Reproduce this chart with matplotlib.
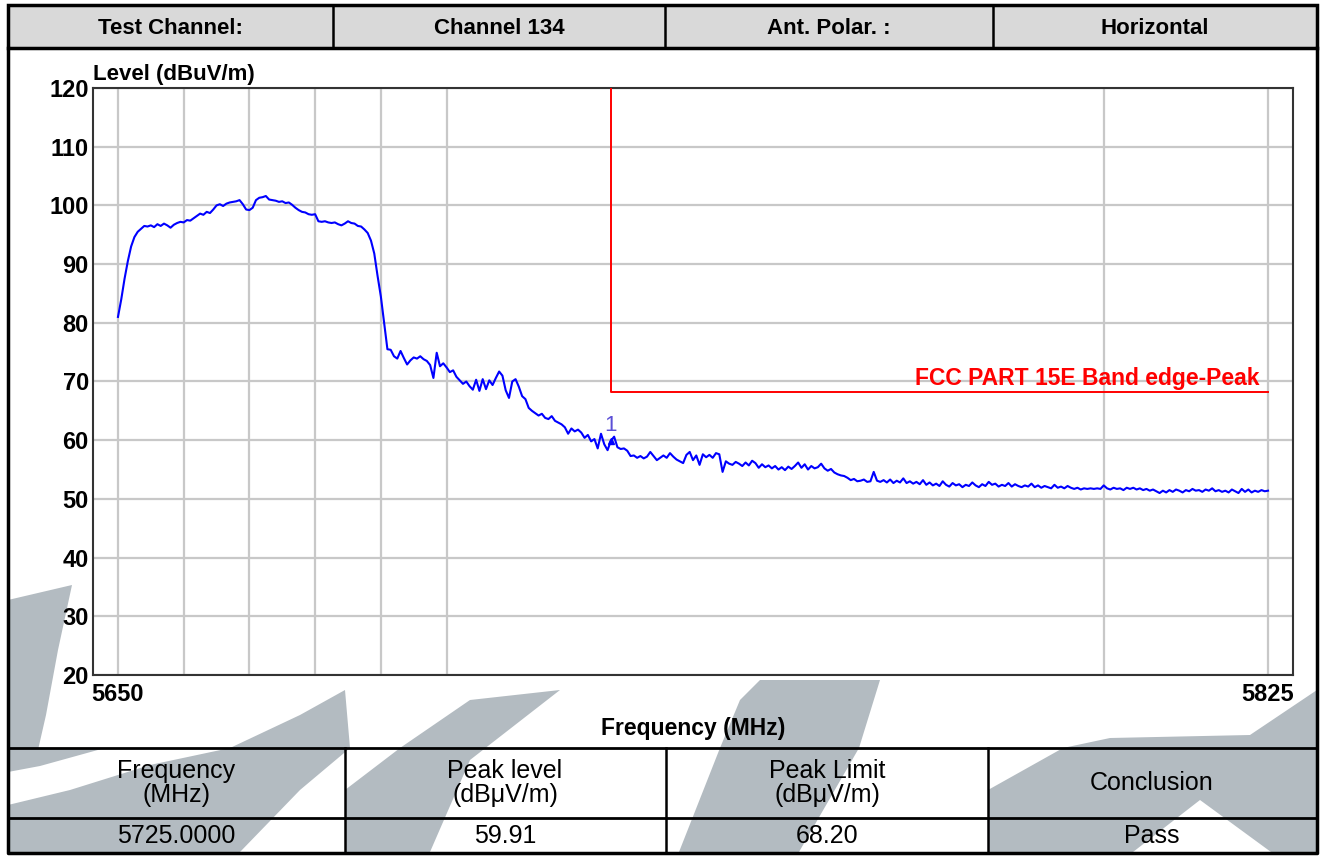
import numpy as np
import matplotlib.pyplot as plt
from matplotlib.patches import Polygon, Rectangle

plt.rcParams['font.family'] = ['Liberation Sans', 'DejaVu Sans']

# ---- data ----
header_cells = ['Test Channel:', 'Channel 134', 'Ant. Polar. :', 'Horizontal']
result_heads = ['Frequency\n(MHz)', 'Peak level\n(dB\u03bcV/m)', 'Peak Limit\n(dB\u03bcV/m)', 'Conclusion']
result_vals = ['5725.0000', '59.91', '68.20', 'Pass']

f_start = 5650.0
f_stop = 5825.0
f_step = 0.5
# measured level, one row = 5 MHz (10 sweep points)
level = [
    81.0, 84.0, 87.5, 90.5, 93.0, 94.6, 95.5, 96.0, 96.5, 96.4,
    96.6, 96.3, 96.8, 96.5, 96.9, 96.6, 96.2, 96.7, 97.0, 97.2,
    97.1, 97.5, 97.4, 97.8, 98.2, 98.6, 98.4, 98.9, 98.7, 99.3,
    100.0, 100.2, 99.9, 100.3, 100.5, 100.6, 100.7, 100.9, 100.2, 99.3,
    99.2, 99.6, 100.9, 101.3, 101.4, 101.6, 101.0, 100.9, 100.8, 100.6,
    100.7, 100.4, 100.5, 100.1, 99.6, 99.2, 98.9, 98.8, 98.5, 98.4,
    98.5, 97.3, 97.2, 97.3, 97.1, 97.0, 97.1, 96.8, 96.6, 96.9,
    97.3, 97.0, 96.9, 96.5, 96.4, 95.9, 95.3, 94.0, 91.8, 88.0,
    84.5, 80.0, 75.5, 75.4, 74.3, 73.9, 75.2, 74.0, 72.9, 73.6,
    74.1, 73.9, 74.3, 73.8, 73.5, 72.8, 70.6, 74.9, 72.6, 73.1,
    72.4, 71.6, 71.9, 70.8, 70.2, 69.6, 70.0, 69.2, 68.6, 70.3,
    68.4, 70.4, 68.7, 70.2, 69.4, 70.6, 71.7, 71.0, 68.5, 67.2,
    70.0, 70.4, 69.1, 67.5, 67.0, 65.5, 65.0, 64.6, 64.2, 64.5,
    63.8, 63.6, 64.1, 63.3, 63.0, 62.7, 62.2, 61.1, 62.0, 61.5,
    61.8, 61.3, 60.4, 60.9, 59.8, 60.2, 58.6, 61.1, 59.3, 58.3,
    59.9, 60.6, 58.8, 58.5, 58.6, 58.2, 57.3, 57.4, 57.0, 57.3,
    56.9, 57.2, 58.0, 57.3, 56.6, 57.0, 57.4, 57.0, 57.8, 57.2,
    56.7, 56.4, 56.1, 57.5, 58.0, 56.6, 57.4, 55.8, 57.6, 57.1,
    57.5, 57.0, 57.8, 57.6, 54.6, 56.4, 56.0, 55.8, 56.3, 56.0,
    55.6, 56.2, 55.7, 56.5, 56.1, 55.3, 55.9, 55.4, 55.7, 55.2,
    55.6, 55.0, 55.4, 54.9, 55.5, 55.1, 55.6, 56.2, 55.3, 55.9,
    55.0, 55.6, 55.2, 55.4, 56.0, 55.2, 54.8, 55.1, 54.5, 54.2,
    54.0, 53.9, 53.6, 53.2, 53.4, 53.0, 53.1, 53.3, 52.9, 53.0,
    54.6, 53.1, 52.9, 53.2, 52.8, 53.3, 52.7, 53.1, 52.8, 53.5,
    52.7, 53.0, 52.6, 52.9, 52.5, 53.2, 52.4, 52.8, 52.3, 52.6,
    52.2, 53.0, 52.4, 52.1, 52.7, 52.3, 52.5, 52.0, 52.4, 52.2,
    52.8, 52.3, 52.0, 52.5, 52.2, 52.9, 52.4, 52.6, 52.1, 52.4,
    52.2, 52.7, 52.1, 52.5, 52.2, 52.0, 52.3, 52.1, 52.6, 52.0,
    52.3, 51.9, 52.2, 52.0, 51.8, 52.4, 51.9, 52.1, 51.8, 52.2,
    51.9, 51.7, 51.9, 51.6, 51.8, 51.7, 51.8, 51.7, 51.8, 51.7,
    52.3, 51.8, 51.6, 51.9, 51.7, 51.8, 51.5, 51.9, 51.7, 51.9,
    51.6, 51.8, 51.5, 51.7, 51.4, 51.6, 51.3, 51.0, 51.4, 51.1,
    51.5, 51.2, 51.6, 51.4, 51.1, 51.5, 51.3, 51.7, 51.4, 51.5,
    51.2, 51.6, 51.4, 51.8, 51.3, 51.5, 51.2, 51.4, 51.1, 51.6,
    51.3, 51.0, 51.7, 51.2, 51.6, 51.1, 51.4, 51.2, 51.5, 51.3,
    51.4,
]
freq = f_start + f_step * np.arange(len(level))

limit_freq = 5725.0
limit_level = 68.2
limit_label = 'FCC PART 15E Band edge-Peak'
marker_freq = 5725.0
marker_level = 59.91

y_min, y_max = 20, 120
grid_freqs = [5660, 5670, 5680, 5690, 5700, 5800]

W, H = 1325, 856
fig = plt.figure(figsize=(W / 100, H / 100), dpi=100)

# background layer in pixel coords (frame, tables, watermark)
bg = fig.add_axes([0, 0, 1, 1])
bg.set_xlim(0, W)
bg.set_ylim(H, 0)
bg.axis('off')

wm = '#b3bbc1'
shapes = [
    [(8, 600), (72, 585), (58, 650), (46, 715), (38, 750), (8, 765)],
    [(8, 748), (105, 748), (40, 766), (8, 772)],
    [(8, 805), (70, 790), (150, 765), (230, 748), (300, 715), (345, 690),
     (350, 748), (300, 790), (240, 852), (8, 852)],
    [(345, 852), (345, 790), (400, 748), (470, 700), (560, 690), (470, 760), (430, 852)],
    [(679, 852), (720, 748), (740, 700), (760, 680), (880, 680), (859, 748), (799, 852)],
    [(988, 852), (988, 790), (1063, 748), (1110, 738), (1250, 735), (1317, 690),
     (1317, 852), (1271, 852), (1200, 800), (1133, 852)],
]
for s in shapes:
    bg.add_patch(Polygon(s, closed=True, facecolor=wm, edgecolor='none'))

# header row
bg.add_patch(Rectangle((8, 5), 1309, 43, facecolor='#d9d9d9', edgecolor='black', lw=2.5))
for x in [333, 665, 993]:
    bg.plot([x, x], [5, 48], color='black', lw=1.8)
for i, txt in enumerate(header_cells):
    cx = [170, 499, 829, 1155][i]
    bg.text(cx, 28, txt, ha='center', va='center', fontsize=16, fontweight='bold')

# outer frame and result table
bg.plot([8, 8, 1317, 1317], [48, 853, 853, 48], color='black', lw=2.5)
bg.plot([8, 1317], [748, 748], color='black', lw=2)
bg.plot([8, 1317], [818, 818], color='black', lw=2)
for x in [345, 666, 988]:
    bg.plot([x, x], [748, 853], color='black', lw=1.8)
centers = [176, 505, 827, 1152]
for cx, hd, val in zip(centers, result_heads, result_vals):
    bg.text(cx, 783, hd, ha='center', va='center', fontsize=18, linespacing=1.0)
    bg.text(cx, 836, val, ha='center', va='center', fontsize=18)

# ---- spectrum plot ----
x0, x1 = 93, 1293
y0, y1 = 88, 675
ax = fig.add_axes([x0 / W, 1 - y1 / H, (x1 - x0) / W, (y1 - y0) / H])
ax.set_facecolor('white')
ax.set_xlim(5646.2, 5828.8)
ax.set_ylim(y_min, y_max)

ax.set_yticks(np.arange(y_min, y_max + 1, 10))
ax.set_xticks([f_start, f_stop])
ax.set_xticks(grid_freqs, minor=True)
ax.grid(True, which='both', color='#c8c8c8', lw=1.6, zorder=0)
ax.tick_params(axis='both', which='both', length=0)
ax.tick_params(axis='y', pad=3, labelsize=17)
ax.tick_params(axis='x', pad=6, labelsize=17)
for lb in ax.get_xticklabels() + ax.get_yticklabels():
    lb.set_fontweight('bold')
for sp in ax.spines.values():
    sp.set_color('#333333')
    sp.set_linewidth(1.5)

ax.plot(freq, level, color='#0000ff', lw=1.5, zorder=3)
ax.plot([limit_freq, limit_freq, f_stop], [y_max, limit_level, limit_level],
        color='#ff0000', lw=1.4, zorder=4)
ax.text(f_stop - 1.3, limit_level + 0.3, limit_label, color='#ff0000', fontsize=16.5,
        fontweight='bold', ha='right', va='bottom', zorder=5)
ax.plot([marker_freq], [marker_level], marker='^', ms=5, color='#0000ff', zorder=5)
ax.text(marker_freq, marker_level + 0.8, '1', color='#5b4fd6', fontsize=16,
        ha='center', va='bottom', zorder=5)

ax.text(0.0, 1.005, 'Level (dBuV/m)', transform=ax.transAxes, fontsize=16,
        fontweight='bold', ha='left', va='bottom')
ax.set_xlabel('Frequency (MHz)', fontsize=16.5, fontweight='bold', labelpad=8)

fig.savefig('out.png', dpi=100)
